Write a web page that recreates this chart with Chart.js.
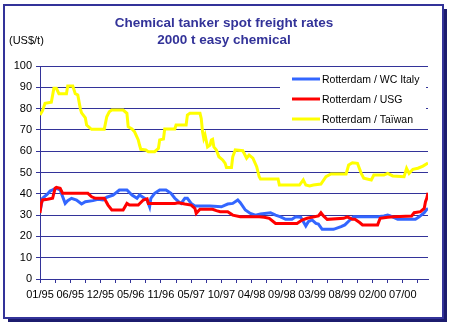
<!DOCTYPE html>
<html>
<head>
<meta charset="utf-8">
<title>Chemical tanker spot freight rates</title>
<script src="https://cdn.jsdelivr.net/npm/chart.js@4.4.1/dist/chart.umd.min.js"></script>
<style>
  html, body { margin: 0; padding: 0; background: #fff; }
  canvas { display: block; }
</style>
</head>
<body>
<canvas id="freight-chart" width="449" height="324"></canvas>
<script>
// ---------------------------------------------------------- data ----------------------------------------------------------//
const chartTitle = ['Chemical tanker spot freight rates', '2000 t easy chemical'];
const unitLabel = '(US$/t)';
const tickLabels = ['01/95', '06/95', '12/95', '05/96', '11/96', '05/97', '10/97',
                    '04/98', '09/98', '03/99', '08/99', '02/00', '07/00'];
const seriesNames = ['Rotterdam / WC Italy', 'Rotterdam / USG', 'Rotterdam / Taïwan'];

// weeks since 01/95, rate in US$/t
const italyWeeks = [0, 1, 2, 6, 8, 10, 13, 16, 18, 20, 22, 25, 29, 33, 36, 42, 46, 50, 53, 58, 63, 69, 73, 77,
                    79, 83, 85, 87, 88, 91, 95, 100, 104, 107, 110, 112, 115, 117, 120, 123, 135, 144, 147,
                    149, 153, 157, 159, 163, 167, 171, 175, 183, 187, 191, 195, 200, 203, 207, 211, 213, 216,
                    219, 221, 224, 233, 239, 242, 246, 249, 268, 273, 276, 278, 284, 298, 301, 305, 307, 308];
const italyRates = [32, 34.7, 37.9, 39.9, 41.3, 41.8, 42.6, 41.8, 38.6, 35.5, 36.8, 37.9, 37.1, 35.2, 36.3, 36.8,
                    37.4, 37.1, 38.4, 39.4, 41.8, 41.8, 39.4, 37.9, 39.4, 37.9, 37.1, 33.9, 37.9, 40.2, 41.8,
                    41.8, 40.2, 37.9, 36.3, 35.5, 37.9, 37.9, 35.5, 34.3, 34.3, 33.9, 34.7, 35.2, 35.5, 37.1,
                    35.8, 32.4, 30.8, 30, 30.5, 31.1, 30, 29.2, 28, 28, 29.2, 29, 24.9, 26.9, 27.7, 26.1, 25.8,
                    23.3, 23.3, 24.6, 25.4, 27.7, 29.2, 29.2, 29.6, 30, 29.6, 28, 28, 29.2, 31.1, 32.7, 33];

const usgWeeks = [0, 1, 2, 6, 10, 12, 13, 16, 18, 38, 41, 44, 51, 54, 57, 66, 69, 71, 78, 82, 85, 86, 107, 110,
                  115, 120, 123, 124, 127, 137, 140, 143, 149, 153, 159, 174, 178, 182, 187, 204, 208, 212, 221,
                  223, 225, 228, 241, 244, 248, 250, 254, 256, 268, 270, 276, 281, 295, 297, 302, 305, 306, 307, 308];
const usgRates = [31, 35.5, 37.1, 37.4, 37.9, 42.6, 43, 42.6, 40.2, 40.2, 38.6, 37.9, 37.9, 34.7, 32.4, 32.4, 35.5,
                  34.7, 34.7, 37.1, 37.6, 35.5, 35.5, 35.8, 35.2, 34.7, 33.1, 30.8, 32.7, 32.7, 32.1, 31.6, 31.6,
                  30, 29.2, 29.2, 29, 28.5, 26.1, 26.1, 27.7, 28.5, 29.6, 31.1, 29.6, 28, 28.5, 29.2, 28, 28,
                  26.4, 25.4, 25.4, 28.5, 29, 29.2, 29.6, 31.1, 31.6, 33.1, 36.3, 37.9, 40.5];

const taiwanWeeks = [0, 2, 4, 9, 11, 13, 15, 21, 22, 26, 28, 30, 32, 33, 36, 37, 40, 41, 51, 53, 55, 57, 66, 69,
                     70, 73, 75, 78, 79, 80, 84, 86, 91, 94, 95, 98, 99, 107, 108, 116, 117, 119, 127, 128, 129,
                     130, 131, 133, 135, 136, 137, 138, 140, 142, 145, 147, 148, 152, 153, 155, 161, 164, 166,
                     169, 172, 174, 175, 189, 190, 206, 209, 211, 214, 217, 223, 227, 231, 243, 245, 248, 252,
                     255, 257, 263, 265, 273, 276, 280, 289, 291, 293, 296, 300, 304, 308];
const taiwanRates = [77, 79, 82.5, 83, 89.5, 89.5, 87, 87, 90.6, 90.6, 87, 86.4, 80, 78, 75.6, 72.3, 70.7, 70.3,
                     70.3, 76.2, 78.5, 79.3, 79.3, 77.8, 71.5, 70.4, 69.2, 65.3, 62.9, 60.9, 60.6, 59.8, 59.8,
                     61.3, 65.3, 65.7, 70.4, 70.4, 72.3, 72.3, 77, 77.8, 77.8, 75.4, 69.2, 66, 67.6, 62, 62.9,
                     65.3, 65.6, 62, 60.6, 57.4, 55.9, 54.3, 52.4, 52.4, 57.4, 60.6, 60.2, 56.7, 58.2, 56.7, 52.7,
                     48, 47, 47, 44.1, 44.1, 46.5, 44.1, 43.7, 44.1, 44.6, 48, 49.3, 49.3, 53.5, 54.6, 54.3, 49.6,
                     47.3, 46.5, 48.8, 48.8, 49.6, 48.4, 48, 52, 49.6, 51.5, 52, 53, 54.5];

// ---------------------------------------------------------- styles ----------------------------------------------------------//
const NAVY = '#333399';
const seriesColors = ['#3366ff', '#ff0000', '#ffff00'];

Chart.defaults.font.family = '"Liberation Sans", Arial, sans-serif';
Chart.defaults.font.size = 11;
Chart.defaults.color = '#000';

function toPoints(weeks, rates) {
    return weeks.map((w, i) => ({ x: w, y: rates[i] }));
}

// frame, titles and legend box (drawn like the excel chart)
const excelLook = {
    id: 'excelLook',
    beforeDraw(chart) {
        const ctx = chart.ctx;
        ctx.save();
        ctx.fillStyle = '#fff';
        ctx.fillRect(0, 0, chart.width, chart.height);
        ctx.restore();
    },
    afterDraw(chart) {
        const ctx = chart.ctx;
        ctx.save();

        // outer border + shadow
        ctx.strokeStyle = NAVY;
        ctx.lineWidth = 2;
        ctx.strokeRect(4, 5, 439, 313);
        ctx.fillStyle = '#1c1c6e';
        ctx.fillRect(444, 9, 3, 313);
        ctx.fillRect(8, 319, 439, 3);

        // titles
        ctx.fillStyle = NAVY;
        ctx.font = 'bold 13.5px "Liberation Sans", Arial, sans-serif';
        ctx.textAlign = 'center';
        ctx.textBaseline = 'alphabetic';
        ctx.fillText(chartTitle[0], 224, 27);
        ctx.fillText(chartTitle[1], 224, 44);

        ctx.fillStyle = '#000';
        ctx.font = '11px "Liberation Sans", Arial, sans-serif';
        ctx.textAlign = 'left';
        ctx.fillText(unitLabel, 9, 44);

        // legend
        ctx.fillStyle = '#fff';
        ctx.fillRect(280, 68, 146, 60);
        ctx.font = '10.5px "Liberation Sans", Arial, sans-serif';
        ctx.textBaseline = 'middle';
        chart.data.datasets.forEach((ds, i) => {
            const y = 79 + i * 20;
            ctx.strokeStyle = ds.borderColor;
            ctx.lineWidth = 3;
            ctx.beginPath();
            ctx.moveTo(292, y);
            ctx.lineTo(320, y);
            ctx.stroke();
            ctx.fillStyle = '#000';
            ctx.fillText(ds.label, 322, y + 1);
        });
        ctx.restore();
    }
};

// ---------------------------------------------------------- chart ----------------------------------------------------------//
const seriesData = [
    toPoints(italyWeeks, italyRates),
    toPoints(usgWeeks, usgRates),
    toPoints(taiwanWeeks, taiwanRates)
];

const config = {
    type: 'line',
    data: {
        datasets: seriesData.map((pts, i) => ({
            label: seriesNames[i],
            data: pts,
            borderColor: seriesColors[i],
            borderWidth: 3,
            pointRadius: 0,
            tension: 0,
            fill: false,
            order: 3 - i   // taiwan on top, like excel
        }))
    },
    options: {
        responsive: false,
        animation: false,
        devicePixelRatio: 1,
        layout: { padding: { top: 66, right: 21, bottom: 0, left: 0 } },
        plugins: {
            legend: { display: false },
            title: { display: false },
            tooltip: { enabled: false }
        },
        scales: {
            x: {
                type: 'linear',
                min: 0,
                max: 308,
                afterFit(scale) { scale.height = 45; },
                afterBuildTicks(scale) {
                    scale.ticks = scale.ticks.filter(t => t.value % 12 === 0);
                },
                border: { display: true, color: NAVY, width: 1 },
                grid: { drawOnChartArea: false, drawTicks: true, tickLength: 4, color: NAVY },
                ticks: {
                    stepSize: 12,
                    autoSkip: false,
                    includeBounds: false,
                    maxRotation: 0,
                    padding: 5,
                    color: '#000',
                    callback: v => (v % 24 === 0 ? tickLabels[v / 24] : '')
                }
            },
            y: {
                min: 0,
                max: 100,
                afterFit(scale) { scale.width = 40; },
                border: { display: true, color: NAVY, width: 1 },
                grid: { color: NAVY, tickLength: 4, drawTicks: true },
                ticks: { stepSize: 10, padding: 4, color: '#000' }
            }
        }
    },
    plugins: [excelLook]
};

new Chart(document.getElementById('freight-chart'), config);
</script>
</body>
</html>
